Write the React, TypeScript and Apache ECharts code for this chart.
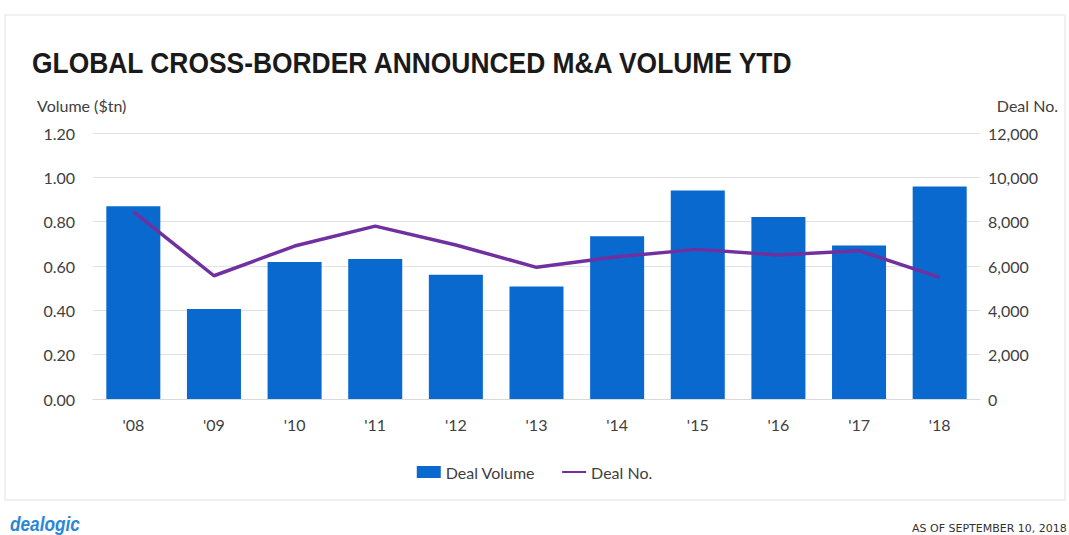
import React, { useEffect, useRef } from "react";
import * as echarts from "echarts";

const years = ["'08", "'09", "'10", "'11", "'12", "'13", "'14", "'15", "'16", "'17", "'18"];
const dealVolume = [0.87, 0.406, 0.618, 0.632, 0.561, 0.507, 0.734, 0.941, 0.821, 0.693, 0.959];
const dealNo = [8450, 5560, 6900, 7800, 6950, 5940, 6420, 6750, 6500, 6690, 5490];
const leftTicks = { min: 0, max: 1.2, interval: 0.2 };
const rightTicks = { min: 0, max: 12000, interval: 2000 };

const FONT = "Lato, 'Open Sans', sans-serif";
const SANS = "'Liberation Sans', Arial, sans-serif";

export default function App() {
  const ref = useRef<HTMLDivElement>(null);
  useEffect(() => {
    if (!ref.current) return;
    const chart = echarts.init(ref.current, undefined, { renderer: "svg" });
    chart.setOption({
      animation: false,
      backgroundColor: "#ffffff",
      textStyle: { fontFamily: FONT },
      grid: { left: 93, right: 89, top: 133, bottom: 136, containLabel: false },
      graphic: [
        {
          type: "rect",
          shape: { x: 5, y: 15, width: 1060, height: 485 },
          style: { fill: "none", stroke: "#ececec", lineWidth: 1.5 },
          silent: true,
        },
        {
          type: "text",
          x: 32,
          y: 47,
          scaleX: 0.88,
          style: {
            text: "GLOBAL CROSS-BORDER ANNOUNCED M&A VOLUME YTD",
            fontFamily: SANS,
            fontWeight: "bold",
            fontSize: 30,
            fill: "#1a1a1a",
            verticalAlign: "top",
          },
        },
        {
          type: "text",
          left: 37,
          top: 97,
          style: { text: "Volume ($tn)", fontFamily: FONT, fontSize: 16, fill: "#404040" },
        },
        {
          type: "text",
          right: 11,
          top: 97,
          style: { text: "Deal No.", fontFamily: FONT, fontSize: 16, fill: "#404040" },
        },
        {
          type: "text",
          x: 10,
          y: 513,
          scaleX: 0.82,
          style: {
            text: "dealogic",
            fontFamily: SANS,
            fontStyle: "italic",
            fontWeight: "bold",
            fontSize: 21,
            fill: "#2a86d6",
            verticalAlign: "top",
          },
        },
        {
          type: "text",
          left: 912,
          top: 523,
          style: {
            text: "AS OF SEPTEMBER 10, 2018",
            fontFamily: "'DejaVu Sans', sans-serif",
            fontSize: 11,
            fill: "#333333",
          },
        },
      ],
      legend: {
        bottom: 50,
        left: "center",
        itemGap: 26,
        textStyle: { fontFamily: FONT, fontSize: 16, color: "#404040" },
        data: [
          { name: "Deal Volume", icon: "rect" },
          { name: "Deal No.", itemStyle: { opacity: 0 } },
        ],
        itemWidth: 24,
        itemHeight: 12,
      },
      xAxis: {
        type: "category",
        data: years,
        axisLine: { show: true, lineStyle: { color: "#d9d9d9" } },
        axisTick: { show: false },
        axisLabel: { color: "#404040", fontSize: 16, margin: 17, fontFamily: FONT },
      },
      yAxis: [
        {
          type: "value",
          min: leftTicks.min,
          max: leftTicks.max,
          interval: leftTicks.interval,
          position: "left",
          axisLabel: {
            color: "#404040",
            fontSize: 16,
            margin: 18,
            fontFamily: FONT,
            formatter: (v: number) => v.toFixed(2),
          },
          axisLine: { show: false },
          axisTick: { show: false },
          splitLine: { lineStyle: { color: "#e3e3e3" } },
        },
        {
          type: "value",
          min: rightTicks.min,
          max: rightTicks.max,
          interval: rightTicks.interval,
          position: "right",
          axisLabel: {
            color: "#404040",
            fontSize: 16,
            margin: 8,
            fontFamily: FONT,
            formatter: (v: number) => v.toLocaleString("en-US"),
          },
          axisLine: { show: false },
          axisTick: { show: false },
          splitLine: { show: false },
        },
      ],
      series: [
        {
          name: "Deal Volume",
          type: "bar",
          data: dealVolume,
          yAxisIndex: 0,
          barCategoryGap: "33%",
          itemStyle: { color: "#0a69cf" },
        },
        {
          name: "Deal No.",
          type: "line",
          data: dealNo,
          yAxisIndex: 1,
          symbol: "none",
          lineStyle: { color: "#7030a0", width: 3.5 },
          itemStyle: { color: "#7030a0" },
        },
      ],
    });
    return () => chart.dispose();
  }, []);
  return (
    <div
      ref={ref}
      style={{ position: "absolute", left: 0, top: 0, width: 1069, height: 535 }}
    />
  );
}
